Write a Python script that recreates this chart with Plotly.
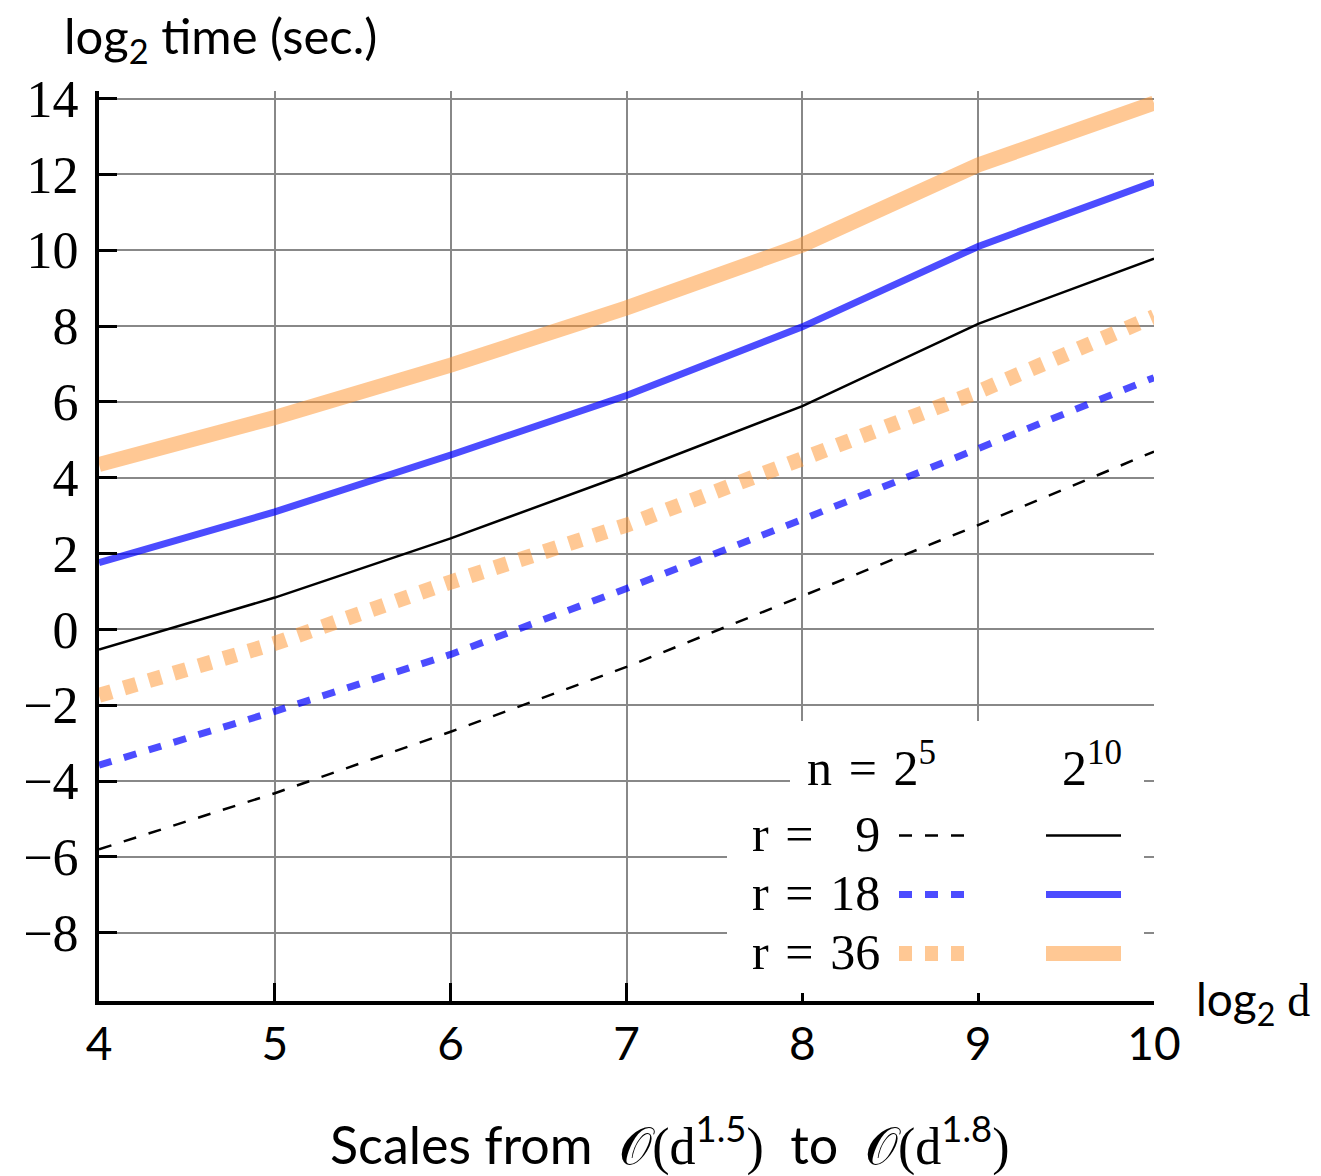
import plotly.graph_objects as go

# ---------------- data ----------------
log2_d = [4, 5, 6, 7, 8, 9, 10]

# n = 2^10 (solid)
n10_r9 = [-0.53, 0.84, 2.40, 4.10, 5.89, 8.06, 9.78]
n10_r18 = [1.76, 3.10, 4.60, 6.17, 7.98, 10.10, 11.80]
n10_r36 = [4.35, 5.59, 6.97, 8.48, 10.14, 12.25, 13.88]

# n = 2^5 (dashed)
n5_r9 = [-5.80, -4.32, -2.70, -0.99, 0.88, 2.75, 4.69]
n5_r18 = [-3.58, -2.16, -0.66, 1.08, 2.90, 4.79, 6.64]
n5_r36 = [-1.74, -0.37, 1.25, 2.75, 4.50, 6.27, 8.25]

x_ticks = [4, 5, 6, 7, 8, 9, 10]
y_ticks = [-8, -6, -4, -2, 0, 2, 4, 6, 8, 10, 12, 14]
r_labels = ["\u20079", "18", "36"]

# ---------------- styles ----------------
BLACK = "black"
BLUE = "rgba(0,0,255,0.70)"
ORANGE = "rgba(255,150,50,0.52)"
DASH = "13px,13px"
SERIF = "Liberation Serif"
SANS = "Lato"
SP = "\u2004"

W, H = 1321, 1176
ML, MR, MT, MB = 99, 167, 91, 175
PW, PH = W - ML - MR, H - MT - MB


def px(x):
    return (x - ML) / PW


def py(y):
    return (H - MB - y) / PH


fig = go.Figure()

series = [
    (n5_r9, BLACK, 2.5, DASH),
    (n5_r18, BLUE, 7, DASH),
    (n5_r36, ORANGE, 15, DASH),
    (n10_r9, BLACK, 2.5, "solid"),
    (n10_r18, BLUE, 7, "solid"),
    (n10_r36, ORANGE, 15, "solid"),
]
for ys, col, w, dash in series:
    fig.add_trace(go.Scatter(x=log2_d, y=ys, mode="lines",
                             line=dict(color=col, width=w, dash=dash),
                             showlegend=False, hoverinfo="skip"))

shapes = []
# white legend background boxes
shapes.append(dict(type="rect", xref="paper", yref="paper",
                   x0=px(790), x1=px(1144), y0=py(993), y1=py(721),
                   fillcolor="white", line=dict(width=0), layer="above"))
shapes.append(dict(type="rect", xref="paper", yref="paper",
                   x0=px(727), x1=px(791), y0=py(993), y1=py(805),
                   fillcolor="white", line=dict(width=0), layer="above"))
# legend key samples
row_y = [835.5, 894.5, 953.5]
row_styles = [(BLACK, 2.5), (BLUE, 7), (ORANGE, 15)]
for yy, (col, w) in zip(row_y, row_styles):
    shapes.append(dict(type="line", xref="paper", yref="paper",
                       x0=px(899), x1=px(965), y0=py(yy), y1=py(yy),
                       line=dict(color=col, width=w, dash=DASH), layer="above"))
    shapes.append(dict(type="line", xref="paper", yref="paper",
                       x0=px(1046), x1=px(1121), y0=py(yy), y1=py(yy),
                       line=dict(color=col, width=w), layer="above"))


def note(text, x, y, xa, ya, family, size):
    return dict(text=text, xref="paper", yref="paper", x=px(x), y=py(y),
                xanchor=xa, yanchor=ya, showarrow=False,
                font=dict(family=family, size=size, color="black"))


annotations = []
# y-axis title
annotations.append(note("log<sub>2</sub> time (sec.)", 62, 4, "left", "top", SANS, 49))
# x-axis label at right end
annotations.append(note("log<sub>2</sub> <span style='font-family:Liberation Serif'>d</span>",
                        1194, 1002, "left", "middle", SANS, 46))
# caption
annotations.append(note(
    "Scales from  <span style='font-family:Liberation Serif'>𝒪(d</span><sup>1.5</sup>"
    "<span style='font-family:Liberation Serif'>)</span>  to  "
    "<span style='font-family:Liberation Serif'>𝒪(d</span><sup>1.8</sup>"
    "<span style='font-family:Liberation Serif'>)</span>",
    669, 1141, "center", "middle", SANS, 52))
# legend header
annotations.append(note("n" + SP + "=" + SP + "2<sup>5</sup>", 805, 764, "left", "middle", SERIF, 50))
annotations.append(note("2<sup>10</sup>", 1124, 764, "right", "middle", SERIF, 50))
# legend rows
for yy, lab in zip(row_y, r_labels):
    annotations.append(note("r" + SP + "=" + SP + lab, 882, yy - 2, "right", "middle", SERIF, 50))

fig.update_layout(
    width=W, height=H,
    margin=dict(l=ML, r=MR, t=MT, b=MB),
    paper_bgcolor="white", plot_bgcolor="white",
    shapes=shapes, annotations=annotations,
    showlegend=False,
    xaxis=dict(range=[4, 10], tickvals=x_ticks, ticktext=[str(v) for v in x_ticks],
               showgrid=True, gridcolor="#888888", gridwidth=2,
               showline=True, linecolor="black", linewidth=4,
               ticks="inside", ticklen=18, tickwidth=3, tickcolor="black",
               tickfont=dict(family=SANS, size=46, color="black"),
               zeroline=False, ticklabelstandoff=0),
    yaxis=dict(range=[-9.8, 14.2], tickvals=y_ticks,
               showgrid=True, gridcolor="#888888", gridwidth=2,
               showline=True, linecolor="black", linewidth=4,
               ticks="inside", ticklen=18, tickwidth=3, tickcolor="black",
               tickfont=dict(family=SERIF, size=52, color="black"),
               zeroline=False, ticklabelstandoff=6),
)

fig.write_html("out.html")
